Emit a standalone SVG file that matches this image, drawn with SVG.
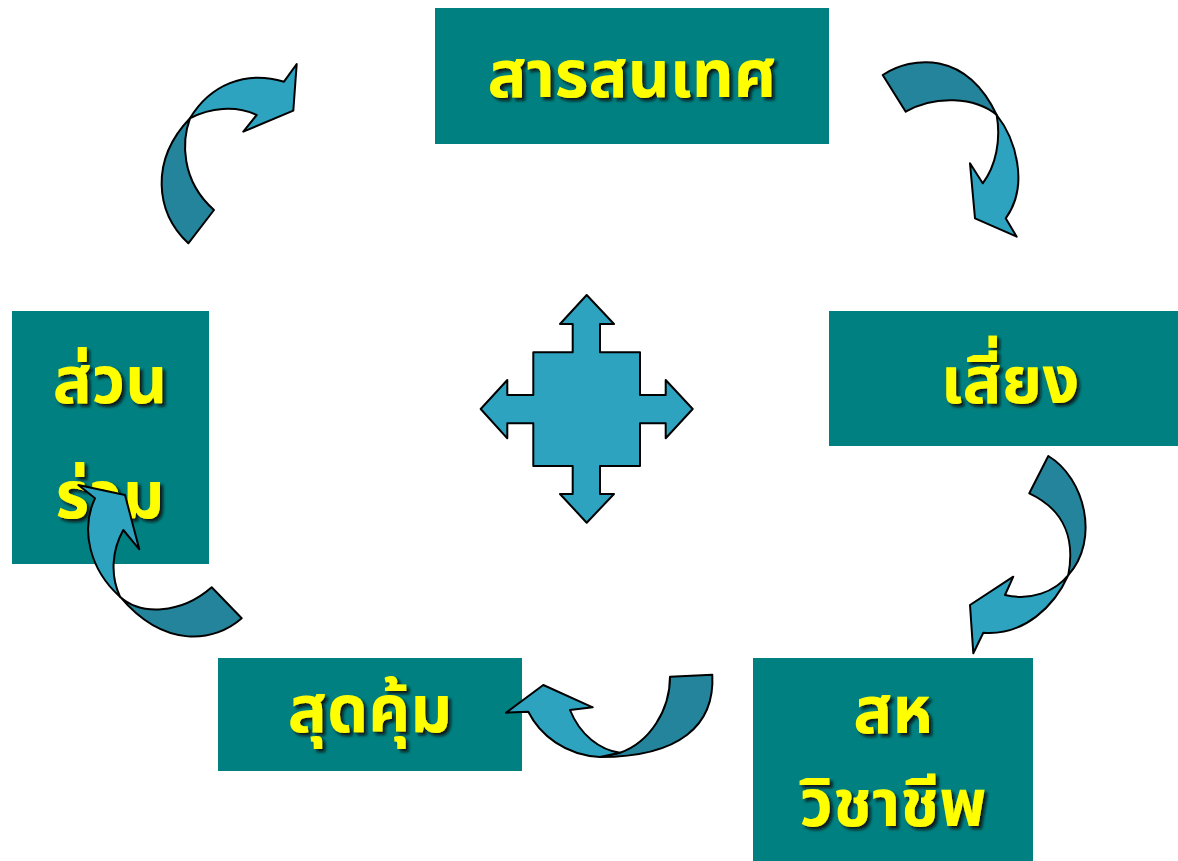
<svg xmlns="http://www.w3.org/2000/svg" width="1178" height="861" viewBox="0 0 1178 861">
<defs>
<style>
.box{fill:#008080;}
.lbl{font-family:"Noto Sans Thai","Noto Sans","DejaVu Sans",sans-serif;font-weight:bold;font-size:65px;fill:#FFFF00;text-anchor:middle;filter:url(#sh);}
.dk{fill:#24849C;stroke:#000;stroke-width:2;stroke-linejoin:round;}
.lt{fill:#2EA3C0;stroke:#000;stroke-width:2;stroke-linejoin:round;}
</style>
<filter id="sh" x="-10%" y="-20%" width="130%" height="150%">
<feDropShadow dx="3" dy="3" stdDeviation="1.5" flood-color="#111" flood-opacity="0.9"/>
</filter>
</defs>
<rect width="1178" height="861" fill="#fff"/>
<g id="node-info">
<rect class="box" x="435" y="8" width="394" height="136"/>
<text class="lbl" x="632" y="97">สารสนเทศ</text>
</g>
<g id="node-risk">
<rect class="box" x="829" y="311" width="349" height="135"/>
<text class="lbl" x="1010" y="403">เสี่ยง</text>
</g>
<g id="node-multi">
<rect class="box" x="753" y="658" width="280" height="203"/>
<text class="lbl" x="893" y="733">สห</text>
<text class="lbl" x="893" y="826">วิชาชีพ</text>
</g>
<g id="node-value">
<rect class="box" x="218" y="658" width="304" height="113"/>
<text class="lbl" x="370" y="732">สุดคุ้ม</text>
</g>
<g id="node-part">
<rect class="box" x="12" y="311" width="197" height="253"/>
<text class="lbl" x="110" y="403">ส่วน</text>
<text class="lbl" x="110" y="518">ร่วม</text>
</g>
<g id="center">
<path class="lt" d="M586.7,295 L614,324 L600,324 L600,352.3 L640,352.3 L640,395 L665.7,395 L665.7,380 L692.7,409 L665.7,438.3 L665.7,423.3 L640,423.3 L640,466 L600,466 L600,494 L614,494 L586.7,522.7 L560,494 L572.7,494 L572.7,466 L533.3,466 L533.3,423.3 L507.3,423.3 L507.3,438.3 L480.7,409 L507.3,380 L507.3,395 L533.3,395 L533.3,352.3 L572.7,352.3 L572.7,324 L560,324 Z"/>
</g>
<g id="connectors">
<g id="arrow-tr">
<path class="dk" d="M882.7,75 C912,56 966,50 996.7,115 C975,97 935,95 905.7,111.7 Z"/>
<path class="lt" d="M996.7,115 C1015,138 1030,185 1005.7,218.3 L1016.7,236.7 L975,218.3 L970,163.3 L982.7,183.3 C996,166 1001,140 996.7,115 Z"/>
</g>
<g id="arrow-br">
<path class="dk" d="M1048.3,456 C1085,478 1100,540 1068.3,575 C1075,540 1065,510 1029.3,493.3 Z"/>
<path class="lt" d="M1068.3,575 C1055,605 1025,636 983.3,632.7 L973.3,653.3 L970,605 L1013.3,576.7 L1005,595 C1030,601 1055,592 1068.3,575 Z"/>
</g>
<g id="arrow-b">
<path class="dk" d="M712.3,674.7 C715,725 680,757 600,757 L620,752.7 C650,742 670,710 670,676.7 Z"/>
<path class="lt" d="M600,757 C565,755 540,735 528.3,711.7 L506,712.7 L543.3,685 L592.7,707.3 L570,710 C580,735 600,750 620,752.7 Z"/>
</g>
<g id="arrow-bl">
<path class="dk" d="M241.7,618.3 C215,642 165,650 120,596.7 C140,615 180,615 211.7,587.3 Z"/>
<path class="lt" d="M120,596.7 C90,570 80,530 95,498.3 L78.3,485 L125,495 L139.3,549.3 L123.3,530 C112,550 110,575 120,596.7 Z"/>
</g>
<g id="arrow-tl">
<path class="dk" d="M188.3,243.3 C155,212 150,160 190,118.3 C182,140 180,180 214,210 Z"/>
<path class="lt" d="M190,118.3 C210,85 245,70 284,81.7 L296.7,64 L293.3,110.7 L243.3,131.7 L256.7,115 C235,105 210,108 190,118.3 Z"/>
</g>
</g>
</svg>
